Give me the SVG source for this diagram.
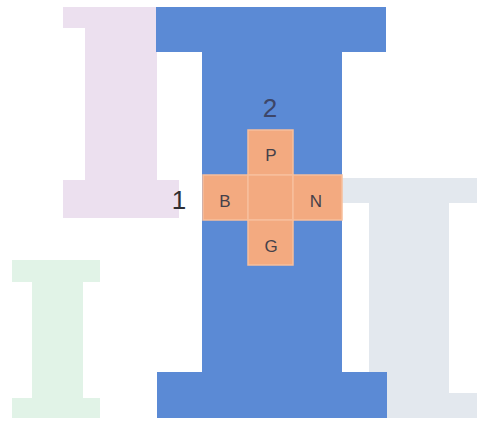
<svg xmlns="http://www.w3.org/2000/svg" width="477" height="421" viewBox="0 0 477 421">
<style>
.pink{fill:#ece0ef}
.green{fill:#e1f3e7}
.gray{fill:#e3e8ee}
.blue{fill:#5b8ad5}
.sq{fill:#f3aa80;stroke:#f7bf9c;stroke-width:1.5}
.lbl{font-family:"Liberation Sans",Arial,sans-serif;font-size:17px;fill:#45414a;text-anchor:middle;dominant-baseline:central}
.num{font-family:"Liberation Sans",Arial,sans-serif;font-size:26px;text-anchor:middle;dominant-baseline:central}
</style>
<rect width="477" height="421" fill="#ffffff"/>
<g id="i-pink">
<path class="pink" d="M63 7H179V28H157V180H179V218H63V180H85V28H63Z"/>
</g>
<g id="i-green">
<path class="green" d="M12 260H100V282H83V398H100V418H12V398H32V282H12Z"/>
</g>
<g id="i-gray">
<path class="gray" d="M342 178H477V203H449V393H477V418H342V393H369V203H342Z"/>
</g>
<g id="i-blue">
<path class="blue" d="M156 7H386V52H342V372H387V418H157V372H202V52H156Z"/>
</g>
<g id="connectors"></g>
<g id="node-P"><rect class="sq" x="248" y="130" width="45" height="45"/><text class="lbl" x="271" y="155">P</text></g>
<g id="node-B"><rect class="sq" x="203" y="175" width="45" height="45"/><text class="lbl" x="225" y="201">B</text></g>
<g id="node-C"><rect class="sq" x="248" y="175" width="45" height="45"/></g>
<g id="node-N"><rect class="sq" x="293" y="175" width="49" height="45"/><text class="lbl" x="316" y="201">N</text></g>
<g id="node-G"><rect class="sq" x="248" y="220" width="45" height="45"/><text class="lbl" x="271" y="246">G</text></g>
<text class="num" x="270" y="108" fill="#3d4668">2</text>
<text class="num" x="179" y="200" fill="#2e2e33">1</text>
</svg>
